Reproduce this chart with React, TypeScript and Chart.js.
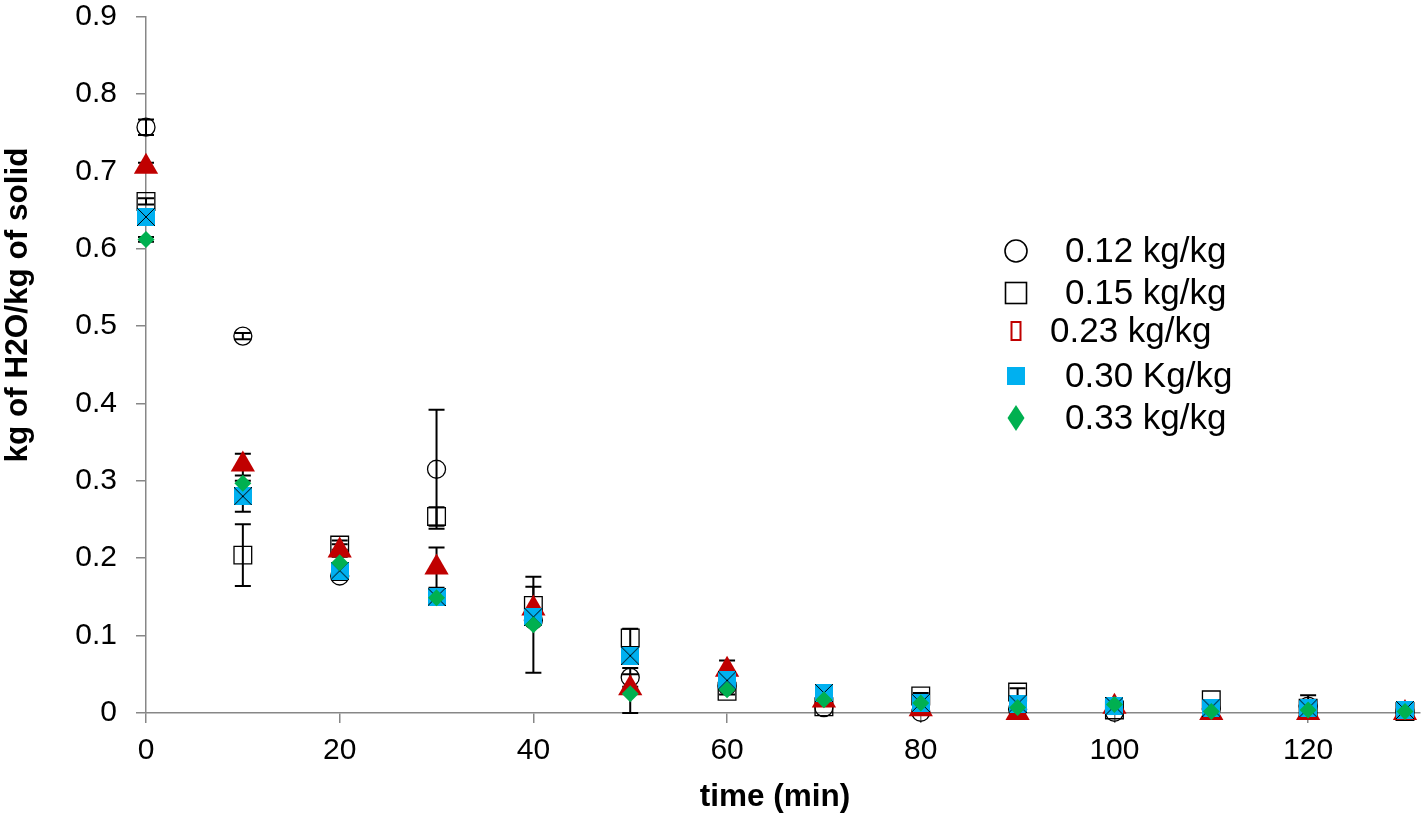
import { useEffect, useRef } from "react";
import { Chart, registerables } from "chart.js";

Chart.register(...registerables);

// time (min)
const times = [0, 10, 20, 30, 40, 50, 60, 70, 80, 90, 100, 110, 120, 130];
const xTicks = [0, 20, 40, 60, 80, 100, 120];
const yTicks = [0, 0.1, 0.2, 0.3, 0.4, 0.5, 0.6, 0.7, 0.8, 0.9];

const seriesNames = ["0.12 kg/kg", "0.15 kg/kg", "0.23 kg/kg", "0.30 Kg/kg", "0.33 kg/kg"];

// kg of H2O / kg of solid, and +/- error per point
const moist012 = [0.757, 0.487, 0.177, 0.315, 0.12, 0.046, 0.035, 0.007, 0.001, 0.005, 0.001, 0.005, 0.009, 0.002];
const err012 = [0.01, 0.004, 0.005, 0.077, 0, 0.012, 0, 0, 0, 0, 0, 0, 0.014, 0];

const moist015 = [0.661, 0.204, 0.217, 0.254, 0.139, 0.097, 0.028, 0.008, 0.022, 0.027, 0.004, 0.017, 0.006, 0.002];
const err015 = [0.004, 0.04, 0.006, 0.012, 0.024, 0.012, 0.004, 0, 0.004, 0.005, 0, 0, 0, 0];

const moist023 = [0.706, 0.321, 0.21, 0.188, 0.135, 0.032, 0.056, 0.016, 0.005, 0, 0.008, 0, 0, 0];
const err023 = [0.005, 0.014, 0.008, 0.026, 0, 0, 0.012, 0, 0, 0, 0, 0, 0, 0];

const moist030 = [0.641, 0.28, 0.184, 0.15, 0.124, 0.074, 0.042, 0.026, 0.013, 0.012, 0.009, 0.007, 0.006, 0.004];
const err030 = [0, 0.02, 0, 0, 0, 0, 0, 0, 0, 0, 0, 0, 0, 0];

const moist033 = [0.612, 0.297, 0.194, 0.149, 0.114, 0.025, 0.03, 0.017, 0.013, 0.007, 0.011, 0.002, 0.004, 0.002];
const err033 = [0.003, 0, 0, 0, 0.062, 0.025, 0, 0, 0, 0, 0, 0, 0, 0];

const RED = "#C00000";
const BLUE = "#00B0F0";
const GREEN = "#00B050";
const AXIS = "#878787";
const FONT = "'Liberation Sans', Arial, sans-serif";

function blueCross(size: number) {
  const c = document.createElement("canvas");
  c.width = size; c.height = size;
  const g = c.getContext("2d")!;
  g.fillStyle = BLUE;
  g.fillRect(0, 0, size, size);
  g.strokeStyle = "#000";
  g.lineWidth = 1;
  g.beginPath();
  g.moveTo(0, 0); g.lineTo(size, size);
  g.moveTo(size, 0); g.lineTo(0, size);
  g.stroke();
  return c;
}

const errorBars = {
  id: "errorBars",
  beforeDatasetsDraw(chart: any) {
    const { ctx, scales } = chart;
    const xs = scales.x, ys = scales.y;
    ctx.save();
    ctx.strokeStyle = "#000";
    ctx.lineWidth = 2;
    chart.data.datasets.forEach((ds: any) => {
      ds.data.forEach((p: any, j: number) => {
        const e = ds.errors[j];
        if (!e) return;
        const x = xs.getPixelForValue(p.x);
        const hi = ys.getPixelForValue(p.y + e);
        const lo = ys.getPixelForValue(Math.max(0, p.y - e));
        ctx.beginPath();
        ctx.moveTo(x, hi); ctx.lineTo(x, lo);
        ctx.moveTo(x - 8, hi); ctx.lineTo(x + 8, hi);
        ctx.moveTo(x - 8, lo); ctx.lineTo(x + 8, lo);
        ctx.stroke();
      });
    });
    ctx.restore();
  },
};

const annotations = {
  id: "annotations",
  afterDraw(chart: any) {
    const ctx = chart.ctx;
    ctx.save();
    // axis titles
    ctx.fillStyle = "#000";
    ctx.font = `bold 31.5px ${FONT}`;
    ctx.textAlign = "center";
    ctx.textBaseline = "middle";
    ctx.fillText("time (min)", 775, 797);
    ctx.translate(18, 305);
    ctx.rotate(-Math.PI / 2);
    ctx.fillText("kg of H2O/kg of solid", 0, 0);
    ctx.restore();

    // legend
    ctx.save();
    ctx.font = `35px ${FONT}`;
    ctx.textAlign = "left";
    ctx.textBaseline = "middle";
    ctx.fillStyle = "#000";
    const rows = [251, 293, 331, 376, 418];
    const textX = [1065, 1065, 1050, 1065, 1065];
    seriesNames.forEach((name, i) => {
      const y = rows[i];
      const mx = 1016;
      ctx.save();
      if (i === 0) {
        ctx.strokeStyle = "#000"; ctx.lineWidth = 1.6;
        ctx.beginPath(); ctx.arc(mx, y, 11, 0, Math.PI * 2); ctx.stroke();
      } else if (i === 1) {
        ctx.strokeStyle = "#000"; ctx.lineWidth = 1.6;
        ctx.strokeRect(mx - 10.5, y - 10.5, 21, 21);
      } else if (i === 2) {
        ctx.strokeStyle = RED; ctx.lineWidth = 2;
        ctx.strokeRect(mx - 4.5, y - 9, 9, 18);
      } else if (i === 3) {
        ctx.fillStyle = BLUE;
        ctx.fillRect(mx - 9, y - 9, 18, 18);
      } else {
        ctx.fillStyle = GREEN;
        ctx.beginPath();
        ctx.moveTo(mx, y - 13); ctx.lineTo(mx + 8.5, y);
        ctx.lineTo(mx, y + 13); ctx.lineTo(mx - 8.5, y);
        ctx.closePath(); ctx.fill();
      }
      ctx.restore();
      ctx.fillText(name, textX[i], y + 1);
    });
    ctx.restore();
  },
};

export default function App() {
  const ref = useRef<HTMLCanvasElement | null>(null);
  useEffect(() => {
    if (!ref.current) return;
    const pts = (vals: number[]) => vals.map((v, i) => ({ x: times[i], y: v }));
    const ch = new Chart(ref.current, {
      type: "scatter",
      data: {
        datasets: [
          { label: seriesNames[0], data: pts(moist012), errors: err012, order: 4, pointStyle: "circle", pointRadius: 9, pointBackgroundColor: "rgba(0,0,0,0)", pointBorderColor: "#000", pointBorderWidth: 1.3, clip: false } as any,
          { label: seriesNames[1], data: pts(moist015), errors: err015, order: 3, pointStyle: "rect", pointRadius: 12.5, pointBackgroundColor: "rgba(0,0,0,0)", pointBorderColor: "#000", pointBorderWidth: 1.3, clip: false } as any,
          { label: seriesNames[2], data: pts(moist023), errors: err023, order: 2, pointStyle: "triangle", pointRadius: 14, pointBackgroundColor: RED, pointBorderColor: RED, pointBorderWidth: 0, clip: false } as any,
          { label: seriesNames[3], data: pts(moist030), errors: err030, order: 1, pointStyle: blueCross(18), pointRadius: 9, clip: false } as any,
          { label: seriesNames[4], data: pts(moist033), errors: err033, order: 0, pointStyle: "rectRot", pointRadius: 8.5, pointBackgroundColor: GREEN, pointBorderColor: GREEN, pointBorderWidth: 0, clip: false } as any,
        ],
      },
      options: {
        animation: false,
        responsive: false,
        layout: { autoPadding: false, padding: { top: 16.5, right: 1.5, left: 0, bottom: 0 } },
        plugins: { legend: { display: false }, tooltip: { enabled: false } },
        scales: {
          x: {
            type: "linear",
            min: 0,
            max: 131.5,
            afterBuildTicks: (s: any) => { s.ticks = xTicks.map((v) => ({ value: v })); },
            afterFit: (s: any) => { s.height = 108; s.paddingLeft = 0; s.paddingRight = 0; },
            grid: { drawOnChartArea: false, drawTicks: true, tickLength: 10, color: AXIS, lineWidth: 1.5 },
            border: { color: AXIS, width: 1.5 },
            ticks: { color: "#000", font: { family: FONT, size: 30 }, padding: 10, maxRotation: 0 },
          },
          y: {
            min: 0,
            max: 0.9,
            afterBuildTicks: (s: any) => { s.ticks = yTicks.map((v) => ({ value: v })); },
            afterFit: (s: any) => { s.width = 146; s.paddingTop = 0; s.paddingBottom = 0; },
            grid: { drawOnChartArea: false, drawTicks: true, tickLength: 10, color: AXIS, lineWidth: 1.5 },
            border: { color: AXIS, width: 1.5 },
            ticks: { color: "#000", font: { family: FONT, size: 30 }, padding: 19, callback: (v: any) => String(Math.round(v * 10) / 10) },
          },
        },
      },
      plugins: [errorBars, annotations],
    } as any);
    return () => ch.destroy();
  }, []);
  return (
    <div style={{ position: "fixed", left: 0, top: 0, width: 1421, height: 821, background: "#fff" }}>
      <canvas ref={ref} width={1421} height={821} style={{ width: 1421, height: 821, display: "block" }}></canvas>
    </div>
  );
}
